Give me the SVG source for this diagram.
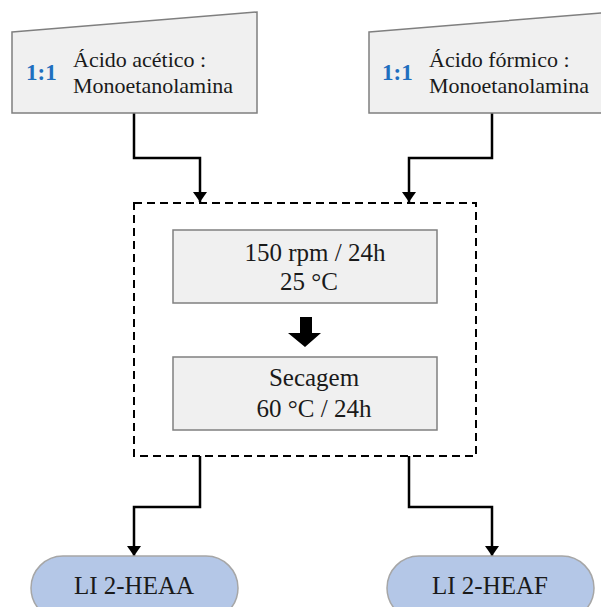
<svg xmlns="http://www.w3.org/2000/svg" width="601" height="607" viewBox="0 0 601 607">
<defs>
<style>
.inp{fill:#f0f0f0;stroke:#7f7f7f;stroke-width:1.5}
.box{fill:#f0f0f0;stroke:#808080;stroke-width:1.5}
.pill{fill:#b4c7e7;stroke:#a6a6a6;stroke-width:1.5}
.t{font-family:"Liberation Serif","Times New Roman",serif;fill:#1a1a1a}
.ratio{font-family:"Liberation Serif","Times New Roman",serif;font-weight:bold;fill:#1f6fbf;font-size:23px}
.conn{fill:none;stroke:#000;stroke-width:2.5;marker-end:url(#ah)}
.dash{fill:none;stroke:#000;stroke-width:2;stroke-dasharray:8 5}
</style>
<marker id="ah" viewBox="0 0 10 14" refX="10" refY="7" markerWidth="4" markerHeight="5.6" markerUnits="strokeWidth" orient="auto">
<path d="M0,0 L10,7 L0,14 Z" fill="#000"/>
</marker>
</defs>
<g id="connectors">
<path class="conn" d="M134,113 V158 H200 V202"/>
<path class="conn" d="M492,113 V158 H409 V202"/>
<path class="conn" d="M200,456 V507 H134 V556"/>
<path class="conn" d="M409,456 V507 H492 V556"/>
</g>
<g id="input-acetico">
<path class="inp" d="M12,32 L257,12 L257,113 L12,113 Z"/>
<text class="ratio" x="26" y="80">1:1</text>
<text class="t" font-size="22" x="73" y="67">Ácido acético :</text>
<text class="t" font-size="22" x="73" y="93">Monoetanolamina</text>
</g>
<g id="input-formico">
<path class="inp" d="M369,32 L612,12 L612,113 L369,113 Z"/>
<text class="ratio" x="382" y="80">1:1</text>
<text class="t" font-size="22" x="429" y="67">Ácido fórmico :</text>
<text class="t" font-size="22" x="429" y="93">Monoetanolamina</text>
</g>
<g id="process">
<rect class="dash" x="134" y="203" width="342" height="253"/>
</g>
<g id="agitacao">
<rect class="box" x="173" y="230" width="264" height="73"/>
<text class="t" font-size="25" x="315" y="261" text-anchor="middle">150 rpm / 24h</text>
<text class="t" font-size="25" x="309" y="290" text-anchor="middle">25 °C</text>
</g>
<g id="big-arrow">
<path d="M300,317 H312 V333 H321 L305,347 L288,333 H300 Z" fill="#000"/>
</g>
<g id="secagem">
<rect class="box" x="173" y="357" width="264" height="73"/>
<text class="t" font-size="25" x="314" y="386" text-anchor="middle">Secagem</text>
<text class="t" font-size="25" x="314" y="417" text-anchor="middle">60 °C / 24h</text>
</g>
<g id="li-heaa">
<rect class="pill" x="31" y="556" width="207" height="64" rx="32"/>
<text class="t" font-size="25" x="134" y="594" text-anchor="middle">LI 2-HEAA</text>
</g>
<g id="li-heaf">
<rect class="pill" x="387" y="556" width="207" height="64" rx="32"/>
<text class="t" font-size="25" x="490" y="594" text-anchor="middle">LI 2-HEAF</text>
</g>
</svg>
